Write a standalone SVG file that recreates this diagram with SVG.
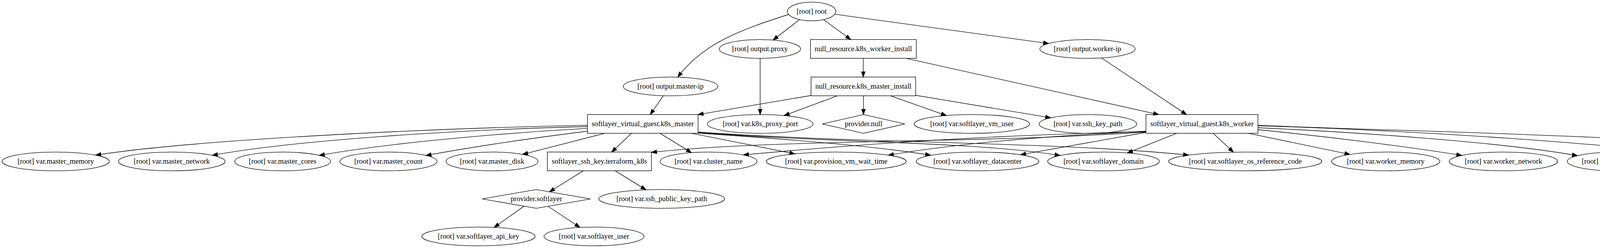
<svg xmlns="http://www.w3.org/2000/svg" width="4806" height="635" viewBox="0 0 4806 635">
<style>
.node ellipse, .node rect, .node polygon { fill: none; stroke: #000; stroke-width: 1.33; }
.node text { font-family: "Liberation Serif", "Times New Roman", serif; font-size: 18.67px; text-anchor: middle; fill: #000; }
.edges path { fill: none; stroke: #000; stroke-width: 1.33; marker-end: url(#ah); }
</style>
<defs>
<marker id="ah" markerUnits="userSpaceOnUse" viewBox="0 0 14 10" markerWidth="14" markerHeight="10" refX="13.33" refY="4.67" orient="auto" overflow="visible">
<path d="M0,0 L13.33,4.67 L0,9.33 Z" fill="#000" stroke="#000" stroke-width="1.33"/>
</marker>
</defs>
<rect x="0" y="0" width="4806" height="635" fill="#fff"/>
<g class="edges" id="edges">
<path d="M2019,37 C1900,75 1800,110 1735,197.6"/>
<path d="M2047,50 L1979,102.6"/>
<path d="M2108.4,50.2 L2178,101.33"/>
<path d="M2137,36.4 L2684.7,111.4"/>
<path d="M1946,149.33 L1946,293.33"/>
<path d="M2210,149.33 L2210,197.33"/>
<path d="M2319.6,149.33 L2966.3,293.33"/>
<path d="M1698.2,245 L1664.5,293.33"/>
<path d="M2076.3,244.5 L1787,293.33"/>
<path d="M2143.6,245.33 L2007.4,295.9"/>
<path d="M2210.5,245.33 L2210.5,293.33"/>
<path d="M2279.8,245.33 L2422.8,295.8"/>
<path d="M2344.1,244 L2690,301.7"/>
<path d="M2819.4,148.3 L3037.5,293.33"/>
<path d="M1503.8,320.6 C1050,330 480,360 244.9,397.3"/>
<path d="M1503.8,324 C1150,333 750,360 543.4,397.7"/>
<path d="M1503.8,328.7 C1300,340 1000,365 817.3,397.8"/>
<path d="M1503.8,336 C1350,355 1200,378 1090.5,398.1"/>
<path d="M1548.2,341.33 L1337.8,395.3"/>
<path d="M1617,341.33 L1565.8,389.33"/>
<path d="M1689.8,341.33 L1770,390.9"/>
<path d="M1770,341.33 L2035,394"/>
<path d="M1787,341 C2000,355 2250,375 2382.6,397.5"/>
<path d="M1787,339 C2100,365 2500,362 2714,398.2"/>
<path d="M1787,338 C2200,368 2700,362 3043,397.2"/>
<path d="M2933.6,338 C2500,368 2000,355 1667.6,390"/>
<path d="M2933.6,337 C2600,345 2300,360 1903,396.6"/>
<path d="M2933.6,336 C2650,350 2450,368 2274,397.3"/>
<path d="M2933.6,339 L2612.5,396.2"/>
<path d="M3012,341.33 L2886,391.6"/>
<path d="M3105.6,341.33 L3157.6,389.6"/>
<path d="M3196,341.33 L3456,395.3"/>
<path d="M3220.4,332 C3400,350 3600,375 3742.3,398"/>
<path d="M3220.4,327 C3500,340 3850,365 4038.5,398.6"/>
<path d="M3220.4,322 C3650,335 4150,370 4315.4,397.8"/>
<path d="M3220.4,321 C3700,340 4400,350 4588.5,398"/>
<path d="M1493,437.33 L1406.6,491.2"/>
<path d="M1575,437.33 L1653.8,486.1"/>
<path d="M1341.6,527.9 L1265,582.3"/>
<path d="M1402.8,528.2 L1484.7,582.3"/>
</g>
<g class="node" id="root"><ellipse cx="2077.8" cy="29.33" rx="62" ry="24"/><text x="2077.8" y="35.33">[root] root</text></g>
<g class="node" id="output_proxy"><ellipse cx="1945.4" cy="125.33" rx="104" ry="24"/><text x="1945.4" y="131.33">[root] output.proxy</text></g>
<g class="node" id="null_worker_install"><rect x="2074.7" y="101.33" width="271" height="48"/><text x="2210.2" y="131.33">null_resource.k8s_worker_install</text></g>
<g class="node" id="output_worker_ip"><ellipse cx="2784" cy="125.33" rx="122" ry="24"/><text x="2784" y="131.33">[root] output.worker-ip</text></g>
<g class="node" id="output_master_ip"><ellipse cx="1716.6" cy="221.33" rx="121" ry="24"/><text x="1716.6" y="227.33">[root] output.master-ip</text></g>
<g class="node" id="null_master_install"><rect x="2076.3" y="197.33" width="267.8" height="48"/><text x="2210.2" y="227.33">null_resource.k8s_master_install</text></g>
<g class="node" id="k8s_master"><rect x="1503.8" y="293.33" width="283.2" height="48"/><text x="1645.4" y="323.33">softlayer_virtual_guest.k8s_master</text></g>
<g class="node" id="var_k8s_proxy_port"><ellipse cx="1946.3" cy="317.33" rx="135.3" ry="24"/><text x="1946.3" y="323.33">[root] var.k8s_proxy_port</text></g>
<g class="node" id="provider_null"><polygon points="2210.7,293.33 2316.4,317.33 2210.7,341.33 2105,317.33"/><text x="2210.7" y="323.33">provider.null</text></g>
<g class="node" id="var_softlayer_vm_user"><ellipse cx="2488" cy="317.33" rx="147.8" ry="24"/><text x="2488" y="323.33">[root] var.softlayer_vm_user</text></g>
<g class="node" id="var_ssh_key_path"><ellipse cx="2785" cy="317.33" rx="125" ry="24"/><text x="2785" y="323.33">[root] var.ssh_key_path</text></g>
<g class="node" id="k8s_worker"><rect x="2933.6" y="293.33" width="286.8" height="48"/><text x="3077" y="323.33">softlayer_virtual_guest.k8s_worker</text></g>
<g class="node" id="var_master_memory"><ellipse cx="142.7" cy="413.33" rx="137.3" ry="24"/><text x="142.7" y="419.33">[root] var.master_memory</text></g>
<g class="node" id="var_master_network"><ellipse cx="439.7" cy="413.33" rx="136.6" ry="24"/><text x="439.7" y="419.33">[root] var.master_network</text></g>
<g class="node" id="var_master_cores"><ellipse cx="723.6" cy="413.33" rx="122.8" ry="24"/><text x="723.6" y="419.33">[root] var.master_cores</text></g>
<g class="node" id="var_master_count"><ellipse cx="994.5" cy="413.33" rx="124.3" ry="24"/><text x="994.5" y="419.33">[root] var.master_count</text></g>
<g class="node" id="var_master_disk"><ellipse cx="1259.6" cy="413.33" rx="117.8" ry="24"/><text x="1259.6" y="419.33">[root] var.master_disk</text></g>
<g class="node" id="ssh_key"><rect x="1401.3" y="389.33" width="266.3" height="48"/><text x="1534.4" y="419.33">softlayer_ssh_key.terraform_k8s</text></g>
<g class="node" id="var_cluster_name"><ellipse cx="1813.9" cy="413.33" rx="124" ry="24"/><text x="1813.9" y="419.33">[root] var.cluster_name</text></g>
<g class="node" id="var_provision_vm_wait_time"><ellipse cx="2140.8" cy="413.33" rx="179.2" ry="24"/><text x="2140.8" y="419.33">[root] var.provision_vm_wait_time</text></g>
<g class="node" id="var_softlayer_datacenter"><ellipse cx="2502.5" cy="413.33" rx="157" ry="24"/><text x="2502.5" y="419.33">[root] var.softlayer_datacenter</text></g>
<g class="node" id="var_softlayer_domain"><ellipse cx="2825" cy="413.33" rx="143" ry="24"/><text x="2825" y="419.33">[root] var.softlayer_domain</text></g>
<g class="node" id="var_softlayer_os_reference_code"><ellipse cx="3188" cy="413.33" rx="196.3" ry="24"/><text x="3188" y="419.33">[root] var.softlayer_os_reference_code</text></g>
<g class="node" id="var_worker_memory"><ellipse cx="3547.4" cy="413.33" rx="138.7" ry="24"/><text x="3547.4" y="419.33">[root] var.worker_memory</text></g>
<g class="node" id="var_worker_network"><ellipse cx="3848.8" cy="413.33" rx="138.8" ry="24"/><text x="3848.8" y="419.33">[root] var.worker_network</text></g>
<g class="node" id="var_worker_cores"><ellipse cx="4137.3" cy="413.33" rx="125" ry="24"/><text x="4137.3" y="419.33">[root] var.worker_cores</text></g>
<g class="node" id="var_worker_count"><ellipse cx="4411.8" cy="413.33" rx="126.5" ry="24"/><text x="4411.8" y="419.33">[root] var.worker_count</text></g>
<g class="node" id="var_worker_disk"><ellipse cx="4681" cy="413.33" rx="120.4" ry="24"/><text x="4681" y="419.33">[root] var.worker_disk</text></g>
<g class="node" id="provider_softlayer"><polygon points="1373,485.33 1511.5,509.33 1373,533.33 1234.5,509.33"/><text x="1373" y="515.33">provider.softlayer</text></g>
<g class="node" id="var_ssh_public_key_path"><ellipse cx="1694" cy="509.33" rx="161" ry="24"/><text x="1694" y="515.33">[root] var.ssh_public_key_path</text></g>
<g class="node" id="var_softlayer_api_key"><ellipse cx="1224.9" cy="605.33" rx="145" ry="24"/><text x="1224.9" y="611.33">[root] var.softlayer_api_key</text></g>
<g class="node" id="var_softlayer_user"><ellipse cx="1520.7" cy="605.33" rx="128" ry="24"/><text x="1520.7" y="611.33">[root] var.softlayer_user</text></g>
</svg>
